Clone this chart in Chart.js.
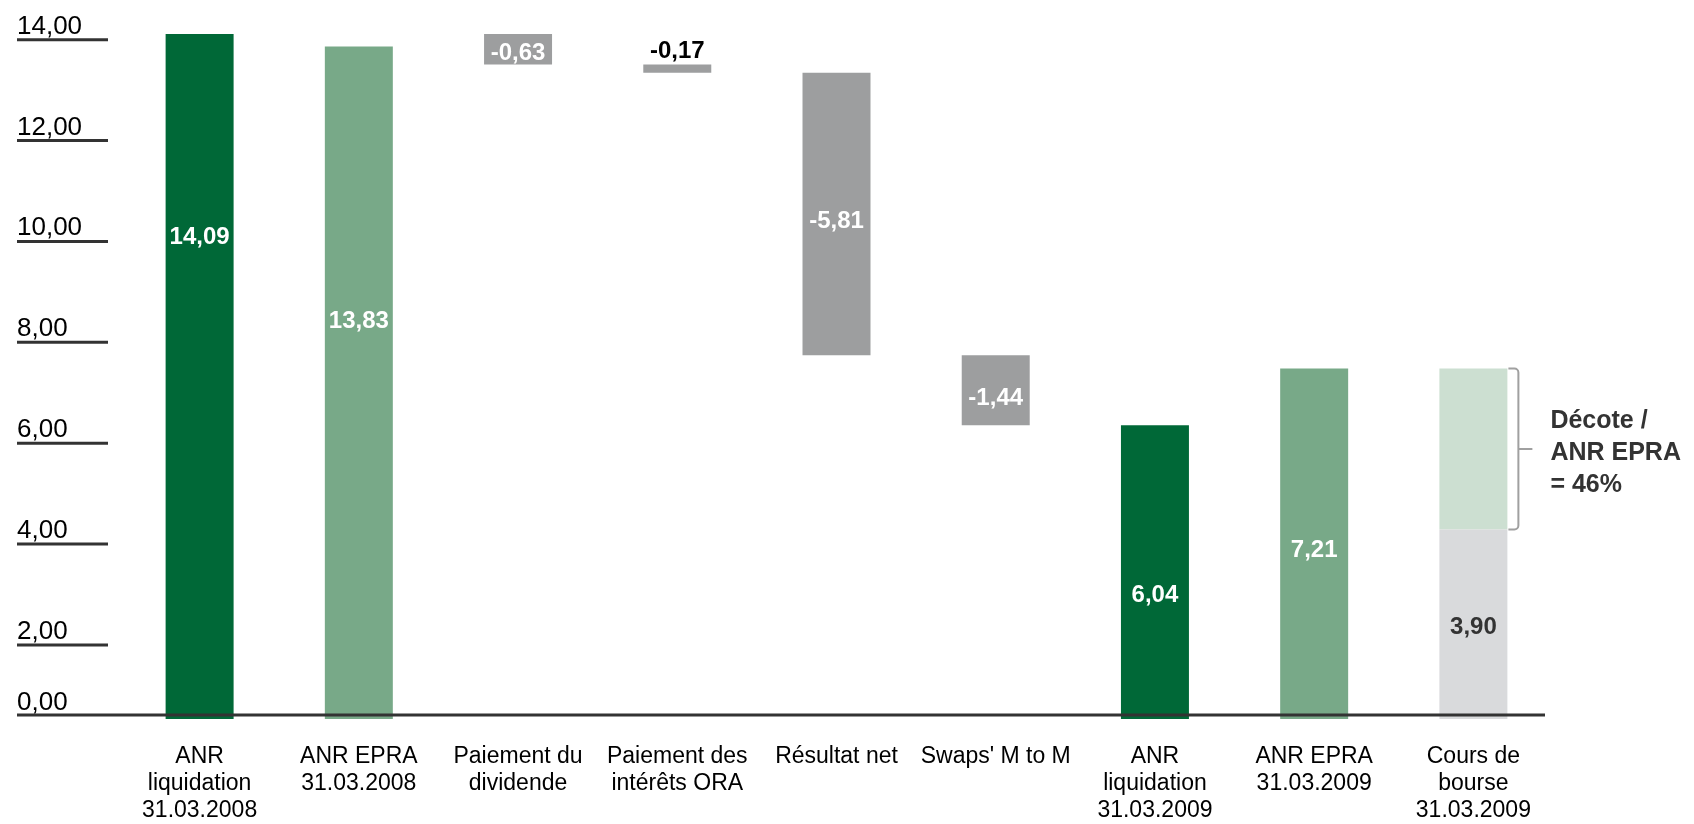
<!DOCTYPE html>
<html>
<head>
<meta charset="utf-8">
<script src="https://cdn.jsdelivr.net/npm/chart.js@4.4.1/dist/chart.umd.min.js"></script>
<style>
  html, body { margin: 0; padding: 0; background: #ffffff; }
  canvas { display: block; }
</style>
</head>
<body>
<canvas id="bridge" width="1694" height="824"></canvas>
<script>
// ---- data -------------------------------------------------------------
const categories = [
  ['ANR', 'liquidation', '31.03.2008'],
  ['ANR EPRA', '31.03.2008'],
  ['Paiement du', 'dividende'],
  ['Paiement des', 'intérêts ORA'],
  'Résultat net',
  "Swaps' M to M",
  ['ANR', 'liquidation', '31.03.2009'],
  ['ANR EPRA', '31.03.2009'],
  ['Cours de', 'bourse', '31.03.2009']
];
// 'start' opens the bridge, 'delta' moves it, 'total' stands on zero
const barKinds = ['start', 'total', 'delta', 'delta', 'delta', 'delta', 'total', 'total', 'total'];
const barValues = [14.09, 13.83, -0.63, -0.17, -5.81, -1.44, 6.04, 7.21, 3.90];
const discountText = ['Décote /', 'ANR EPRA', '= 46%'];
const yTickValues = [0, 2, 4, 6, 8, 10, 12, 14];

// ---- styling ----------------------------------------------------------
const DARK = '#006837', MID = '#78a988', GREY = '#9d9e9f', PALE = '#d9dadc', MINT = '#ccdfd1';
const barColors = [DARK, MID, GREY, GREY, GREY, GREY, DARK, MID, PALE];
const labelColors = ['#fff', '#fff', '#fff', '#000', '#fff', '#fff', '#fff', '#fff', '#333'];
// where the value label sits inside its bar (share of height from the bottom);
// null puts it above the bar
const labelLift = [0.705, 0.593, 0.40, null, 0.477, 0.40, 0.423, 0.484, 0.49];
const FONT = '"Liberation Sans", Arial, Helvetica, sans-serif';

// ---- bridge ranges ----------------------------------------------------
let level = 0;
const bridgeData = barValues.map((v, i) => {
  const kind = barKinds[i];
  if (kind === 'start') { level = v; return [0, v]; }
  if (kind === 'delta') { const r = [level + v, level]; level += v; return r; }
  return [0, v];
});
const priceIdx = 8, navIdx = 7;
const discountData = categories.map((_, i) => i === priceIdx ? [barValues[priceIdx], barValues[navIdx]] : null);

const fmt = v => v.toFixed(2).replace('.', ',');

// ---- drawing helpers --------------------------------------------------
const decor = {
  id: 'decor',
  afterDatasetsDraw(chart) {
    const ctx = chart.ctx;
    const y = chart.scales.y, yt = chart.scales.yt, area = chart.chartArea;
    const axisY = y.getPixelForValue(0) - 4;

    ctx.save();
    // baseline
    ctx.strokeStyle = '#333333';
    ctx.lineWidth = 3;
    ctx.beginPath();
    ctx.moveTo(17, axisY);
    ctx.lineTo(area.right - 8, axisY);
    ctx.stroke();

    // value axis: labels sitting on short rules
    ctx.font = '26px ' + FONT;
    ctx.fillStyle = '#000';
    ctx.textAlign = 'left';
    ctx.textBaseline = 'alphabetic';
    yTickValues.forEach(v => {
      const txt = fmt(v);
      if (v === 0) {
        ctx.fillText(txt, 17, axisY - 5);
        return;
      }
      const ly = yt.getPixelForValue(v);
      ctx.beginPath();
      ctx.moveTo(17, ly);
      ctx.lineTo(108, ly);
      ctx.stroke();
      ctx.fillText(txt, 17, ly - 6);
    });

    // value labels
    const meta = chart.getDatasetMeta(0);
    ctx.font = 'bold 24px ' + FONT;
    ctx.textAlign = 'center';
    ctx.textBaseline = 'middle';
    meta.data.forEach((el, i) => {
      const top = Math.min(el.y, el.base), bottom = Math.max(el.y, el.base);
      const lift = labelLift[i];
      const ty = lift === null ? top - 14 : bottom - lift * (bottom - top);
      ctx.fillStyle = labelColors[i];
      ctx.fillText(fmt(barValues[i]), el.x, ty + 1);
    });

    // bracket beside the share price bar
    const pel = chart.getDatasetMeta(1).data[priceIdx];
    const right = pel.x + pel.width / 2;
    const bTop = y.getPixelForValue(barValues[navIdx]);
    const bBot = y.getPixelForValue(barValues[priceIdx]);
    const bx = right + 11, mid = (bTop + bBot) / 2, r = 4;
    ctx.strokeStyle = '#a0a0a0';
    ctx.lineWidth = 2;
    ctx.beginPath();
    ctx.moveTo(right + 1, bTop);
    ctx.arcTo(bx, bTop, bx, bTop + r, r);
    ctx.lineTo(bx, bBot - r);
    ctx.arcTo(bx, bBot, right + 1, bBot, r);
    ctx.lineTo(right + 1, bBot);
    ctx.moveTo(bx, mid);
    ctx.lineTo(bx + 14, mid);
    ctx.stroke();

    ctx.fillStyle = '#333333';
    ctx.font = 'bold 25px ' + FONT;
    ctx.textAlign = 'left';
    ctx.textBaseline = 'alphabetic';
    discountText.forEach((line, k) => {
      ctx.fillText(line, right + 43, mid - 21 + k * 32);
    });
    ctx.restore();
  }
};

new Chart(document.getElementById('bridge'), {
  type: 'bar',
  data: {
    labels: categories,
    datasets: [
      { data: bridgeData, backgroundColor: barColors },
      { data: discountData, backgroundColor: MINT }
    ]
  },
  options: {
    responsive: false,
    animation: false,
    devicePixelRatio: 1,
    datasets: {
      bar: { grouped: false, barPercentage: 0.427, categoryPercentage: 1, borderWidth: 0 }
    },
    layout: { padding: { left: 120, right: 141, top: 14, bottom: 0 } },
    plugins: { legend: { display: false }, tooltip: { enabled: false } },
    scales: {
      x: {
        grid: { display: false, drawTicks: false, tickLength: 0 },
        border: { display: false },
        ticks: {
          autoSkip: false, maxRotation: 0, minRotation: 0,
          padding: 24.6, color: '#000',
          font: { family: FONT, size: 23, lineHeight: 1.16 }
        },
        afterFit(scale) { scale.height = 105; }
      },
      y: { display: false, min: 0, max: 14.5 },
      yt: { display: false, position: 'left', min: 0.532, max: 14.509 }
    }
  },
  plugins: [decor]
});
</script>
</body>
</html>
